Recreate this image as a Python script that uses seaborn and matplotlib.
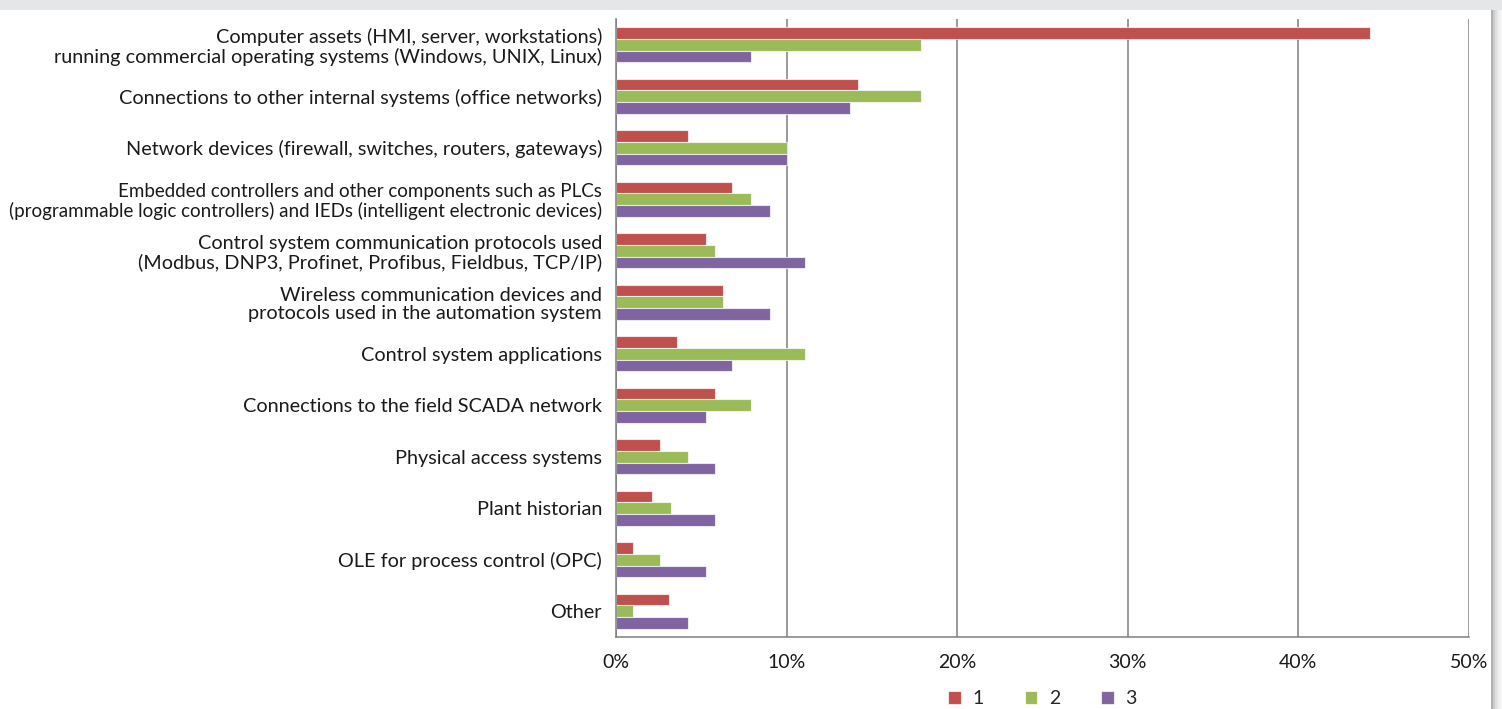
import pandas as pd
import seaborn as sns
import matplotlib.pyplot as plt
from matplotlib.patches import Rectangle
from matplotlib.ticker import FuncFormatter, FixedLocator

# categories (top to bottom) and the three series, in percent
categories = [
    "Computer assets (HMI, server, workstations)\nrunning commercial operating systems (Windows, UNIX, Linux)",
    "Connections to other internal systems (office networks)",
    "Network devices (firewall, switches, routers, gateways)",
    "Embedded controllers and other components such as PLCs\n(programmable logic controllers) and IEDs (intelligent electronic devices)",
    "Control system communication protocols used\n(Modbus, DNP3, Profinet, Profibus, Fieldbus, TCP/IP)",
    "Wireless communication devices and\nprotocols used in the automation system",
    "Control system applications",
    "Connections to the field SCADA network",
    "Physical access systems",
    "Plant historian",
    "OLE for process control (OPC)",
    "Other",
]
series_1 = [44.2, 14.2, 4.2, 6.8, 5.3, 6.3, 3.6, 5.8, 2.6, 2.1, 1.0, 3.1]
series_2 = [17.9, 17.9, 10.0, 7.9, 5.8, 6.3, 11.1, 7.9, 4.2, 3.2, 2.6, 1.0]
series_3 = [7.9, 13.7, 10.0, 9.0, 11.1, 9.0, 6.8, 5.3, 5.8, 5.8, 5.3, 4.2]
series_names = ["1", "2", "3"]
colors = ["#C0504D", "#9BBB59", "#8064A2"]

# long form table for seaborn
rows = []
for name, vals in zip(series_names, [series_1, series_2, series_3]):
    for cat, v in zip(categories, vals):
        rows.append({"category": cat, "series": name, "value": v})
df = pd.DataFrame(rows)

sns.set_style("white")
plt.rcParams["font.family"] = ["Lato", "DejaVu Sans"]

fig = plt.figure(figsize=(15.02, 7.09), dpi=100)
ax = fig.add_axes([616 / 1502, 1 - 637 / 709, (1469 - 616) / 1502, (637 - 19) / 709])

sns.barplot(data=df, x="value", y="category", hue="series", orient="h",
            palette=colors, saturation=1, width=0.67, gap=0, ax=ax,
            edgecolor=(1, 1, 1, 0.7), linewidth=0.8)

ax.set_xlim(0, 50)
ax.set_ylim(len(categories) - 0.5, -0.5)
ax.set_xticks(range(0, 51, 10))
ax.xaxis.set_major_formatter(FuncFormatter(lambda x, p: f"{x:.0f}%"))
ax.set_xlabel("")
ax.set_ylabel("")

# vertical gridlines
ax.grid(axis="x", color="#7f7f7f", linewidth=1.1)
ax.set_axisbelow(True)

for s in ["top", "right"]:
    ax.spines[s].set_visible(False)
for s in ["left", "bottom"]:
    ax.spines[s].set_color("#7f7f7f")
    ax.spines[s].set_linewidth(1.1)

# labels without tick marks, tick marks at category boundaries
ax.tick_params(axis="y", which="major", length=0, pad=10, labelsize=14.3, labelcolor="#1a1a1a")
ax.yaxis.set_minor_locator(FixedLocator([i - 0.5 for i in range(len(categories) + 1)]))
ax.tick_params(axis="y", which="minor", length=6, width=1.1, color="#7f7f7f", direction="out")
ax.tick_params(axis="x", which="major", length=6, width=1.1, color="#7f7f7f",
               direction="out", pad=6, labelsize=14, labelcolor="#1a1a1a")
for t in ax.get_yticklabels():
    t.set_horizontalalignment("right")
    t.set_multialignment("right")
    t.set_linespacing(1.1)
    if "IEDs" in t.get_text():
        # the widest label has to fit inside the figure
        t.set_fontsize(13.5)

# legend
handles, labels = ax.get_legend_handles_labels()
ax.legend(handles, labels, loc="center", bbox_to_anchor=(0.5, -0.1), ncol=3,
          frameon=False, handlelength=0.65, handleheight=0.65, handletextpad=0.6,
          columnspacing=2.1, fontsize=14)

# grey band at the top and shadow on the right
fig.add_artist(Rectangle((0, 1 - 10 / 709), 1, 10 / 709, transform=fig.transFigure,
                         facecolor="#e5e6e8", edgecolor="none", zorder=-1))
for i, a in enumerate([0.3, 0.2, 0.13, 0.08, 0.05, 0.03]):
    x0 = (1491 + i * 2) / 1502
    fig.add_artist(Rectangle((x0, 0), 2 / 1502, 1 - 10 / 709, transform=fig.transFigure,
                             facecolor="#000000", alpha=a, edgecolor="none", zorder=-1))

fig.savefig("out.png", dpi=100)
